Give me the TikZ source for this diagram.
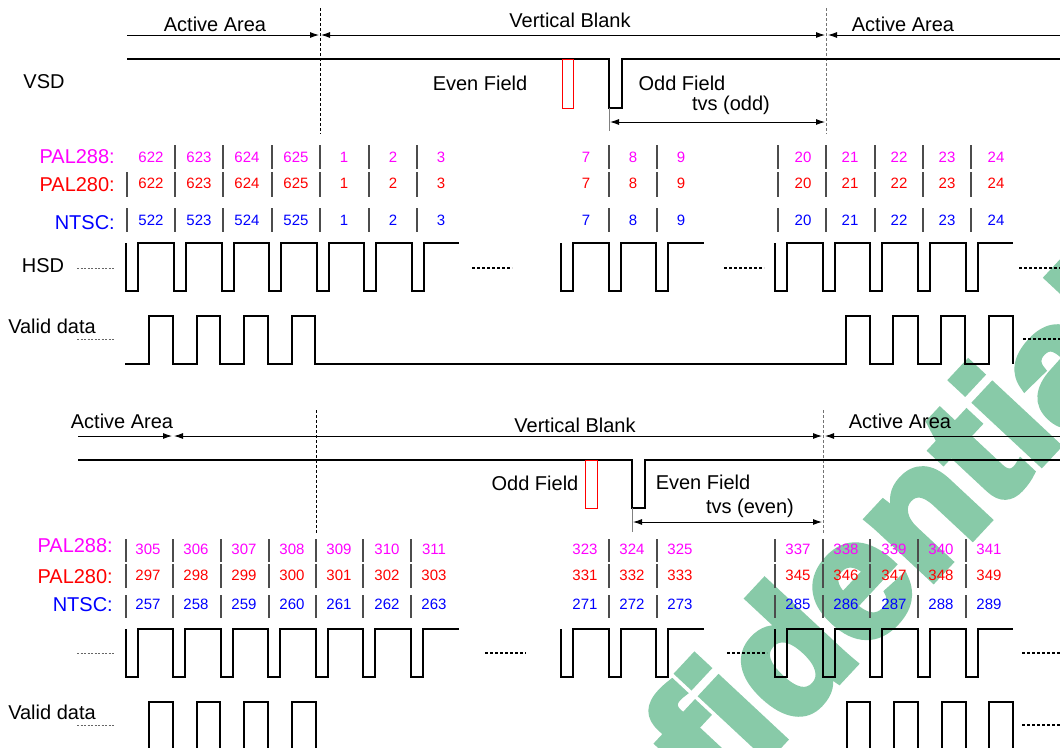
\documentclass[tikz,border=0pt]{standalone}
\usepackage{fontspec}
\setmainfont{Liberation Sans}
\newfontfamily\wmfont[FakeBold=4.5]{Liberation Sans Bold}
\usetikzlibrary{arrows.meta}
\definecolor{mag}{RGB}{255,0,255}
\definecolor{rd}{RGB}{255,0,0}
\definecolor{bl}{RGB}{0,0,255}
\definecolor{wmark}{RGB}{136,202,168}
\newcommand\hsdwave[5]{\draw[wave] (#1,#4) \foreach \s in {#2}{ -- (\s,#4) -- (\s,#5) -- ({\s+12},#5) -- ({\s+12},#4)} -- (#3,#4);}
\begin{document}
\begin{tikzpicture}[x=1pt,y=-1pt,
  >={Latex[length=9pt,width=6pt]},
  wave/.style={line width=2pt,line join=miter},
  sepline/.style={line width=1.3pt,black!70},
  dimline/.style={line width=0.9pt,black},
  vdash/.style={line width=0.9pt,dash pattern=on 3pt off 2pt},
  lbl/.style={font=\fontsize{20}{24}\selectfont,inner sep=0pt},
  num/.style={font=\fontsize{15}{18}\selectfont,inner sep=0pt},
  dots/.style={line width=1.2pt,dash pattern=on 3pt off 2pt},
  ldots/.style={line width=0.8pt,black!60,dash pattern=on 2pt off 1.5pt},
  redbox/.style={line width=0.9pt,rd}]
\useasboundingbox (0,0) rectangle (1060,747);
\begin{scope}
\clip (0,0) rectangle (1060,747);
\node[anchor=base,rotate=47,inner sep=0pt,text=wmark,font=\fontsize{168}{168}\wmfont] (wm) at (830,690) {Confidential};
\end{scope}

% ================= TOP =================
\node[lbl] (actA) at (215,24) {Active Area};
\node[lbl] (vblankA) at (570,20) {Vertical Blank};
\node[lbl] (actB) at (903,24) {Active Area};
\node[lbl] (vsdA) at (44,82) {VSD};
\node[lbl] (evenA) at (480,83) {Even Field};
\node[lbl] (oddA) at (682,83) {Odd Field};
\node[lbl] (tvsA) at (731,105) {tvs (odd)};
\node[lbl] (hsdA) at (43,266) {HSD};
\node[lbl] (validA) at (52,326) {Valid data};
\node[lbl,anchor=east,text=mag] (p288A) at (115,157) {PAL288:};
\node[lbl,anchor=east,text=rd] (p280A) at (115,185) {PAL280:};
\node[lbl,anchor=east,text=bl] (ntscA) at (115,223) {NTSC:};

% dimension arrows
\coordinate (a0) at (127,35);
\coordinate (a1) at (319,35);
\coordinate (a2) at (321,35);
\coordinate (a3) at (825,35);
\coordinate (a4) at (828,35);
\coordinate (a5) at (1060,35);
\draw[dimline,->] (a0) -- (a1);
\draw[dimline,<->] (a2) -- (a3);
\draw[dimline,<-] (a4) -- (a5);

% dashed verticals
\draw[vdash] (320,8) -- (320,134);
\draw[vdash,black!55] (826,8) -- (826,134);

% VSD
\draw[wave] (127,59) -- (609,59) -- (609,108) -- (622,108) -- (622,59) -- (1060,59);
\draw[redbox] (562,59) rectangle (573,108);
\draw[line width=0.9pt,black!50] (609,108) -- (609,131);
\coordinate (t0) at (610,122);
\coordinate (t1) at (825,122);
\draw[dimline,<->] (t0) -- (t1);

% numbers
\foreach \x/\a/\b/\c [count=\i] in {151/622/622/522,199/623/623/523,247/624/624/524,296/625/625/525,344/1/1/1,393/2/2/2,441/3/3/3,586/7/7/7,633/8/8/8,681/9/9/9,803/20/20/20,850/21/21/21,899/22/22/22,947/23/23/23,996/24/24/24}{
  \node[num,text=mag] (na\i) at (\x,157) {\a};
  \node[num,text=rd] (nb\i) at (\x,183) {\b};
  \node[num,text=bl] (nc\i) at (\x,220) {\c};
}
\foreach \x in {175,223,272,320,369,417,609,657,778,826,875,923,971}
  \draw[sepline] (\x,145) -- (\x,169);
\foreach \x in {127,175,223,272,320,369,417,609,657,778,826,875,923,971}{
  \draw[sepline] (\x,172) -- (\x,197);
  \draw[sepline] (\x,208) -- (\x,232);
}

% HSD
\draw[ldots] (77,268) -- (115,268);
\hsdwave{126}{126,174,222,269,317,364,412}{459}{243}{291}
\hsdwave{561}{561,609,656}{704}{243}{291}
\hsdwave{775}{775,823,870,918,966}{1013}{243}{291}
\draw[dots] (472,268) -- (512,268);
\draw[dots] (724,268) -- (764,268);
\draw[dots] (1019,268) -- (1060,268);

% Valid data
\draw[ldots] (77,339) -- (115,339);
\draw[wave] (125,364) -- (149,364) -- (149,316) -- (173,316) -- (173,364) -- (197,364) -- (197,316) -- (220,316) -- (220,364) -- (244,364) -- (244,316) -- (268,316) -- (268,364) -- (292,364) -- (292,316) -- (315,316) -- (315,364) -- (846,364) -- (846,316) -- (870,316) -- (870,364) -- (893,364) -- (893,316) -- (918,316) -- (918,364) -- (941,364) -- (941,316) -- (965,316) -- (965,364) -- (989,364) -- (989,316) -- (1013,316) -- (1013,364);
\draw[dots] (1023,339) -- (1060,339);

% ================= BOTTOM =================
\node[lbl] (actC) at (122,421) {Active Area};
\node[lbl] (vblankB) at (575,425) {Vertical Blank};
\node[lbl] (actD) at (900,421) {Active Area};
\node[lbl] (oddB) at (535,483) {Odd Field};
\node[lbl] (evenB) at (703,482) {Even Field};
\node[lbl] (tvsB) at (750,508) {tvs (even)};
\node[lbl] (validB) at (52,712) {Valid data};
\node[lbl,anchor=east,text=mag] (p288B) at (113,546) {PAL288:};
\node[lbl,anchor=east,text=rd] (p280B) at (113,577) {PAL280:};
\node[lbl,anchor=east,text=bl] (ntscB) at (113,605) {NTSC:};

\coordinate (b0) at (78,436);
\coordinate (b1) at (172,436);
\coordinate (b2) at (174,436);
\coordinate (b3) at (822,436);
\coordinate (b4) at (825,436);
\coordinate (b5) at (1060,436);
\draw[dimline,->] (b0) -- (b1);
\draw[dimline,<->] (b2) -- (b3);
\draw[dimline,<-] (b4) -- (b5);

\draw[vdash] (316,410) -- (316,533);
\draw[vdash,black!55] (823,410) -- (823,533);

\draw[wave] (78,460) -- (632,460) -- (632,508) -- (645,508) -- (645,460) -- (1060,460);
\draw[redbox] (585,460) rectangle (597,508);
\draw[line width=0.9pt,black!50] (632,508) -- (632,532);
\coordinate (u0) at (633,522);
\coordinate (u1) at (822,522);
\draw[dimline,<->] (u0) -- (u1);

\foreach \x/\a/\b/\c [count=\i] in {148/305/297/257,196/306/298/258,244/307/299/259,292/308/300/260,339/309/301/261,387/310/302/262,434/311/303/263,585/323/331/271,632/324/332/272,680/325/333/273,798/337/345/285,846/338/346/286,894/339/347/287,941/340/348/288,989/341/349/289}{
  \node[num,text=mag] (ma\i) at (\x,549) {\a};
  \node[num,text=rd] (mb\i) at (\x,575) {\b};
  \node[num,text=bl] (mc\i) at (\x,604) {\c};
}
\foreach \x in {126,173,221,269,316,363,411,609,657,775,823,870,918,966}{
  \draw[sepline] (\x,539) -- (\x,562);
  \draw[sepline] (\x,564) -- (\x,588);
  \draw[sepline] (\x,595) -- (\x,618);
}

\draw[ldots] (77,653) -- (115,653);
\hsdwave{126}{126,173,221,268,316,363,411}{459}{629}{677}
\hsdwave{561}{561,609,656}{704}{629}{677}
\hsdwave{775}{775,823,870,918,966}{1013}{629}{677}
\draw[dots] (485,653) -- (526,653);
\draw[dots] (727,653) -- (767,653);
\draw[dots] (1022,653) -- (1060,653);

\draw[ldots] (77,725) -- (115,725);
\foreach \s/\e in {149/173,197/220,244/268,292/316,847/870,894/918,942/966,989/1013}
  \draw[wave] (\s,748) -- (\s,702) -- (\e,702) -- (\e,748);
\draw[dots] (1022,725) -- (1060,725);
\end{tikzpicture}
\end{document}
